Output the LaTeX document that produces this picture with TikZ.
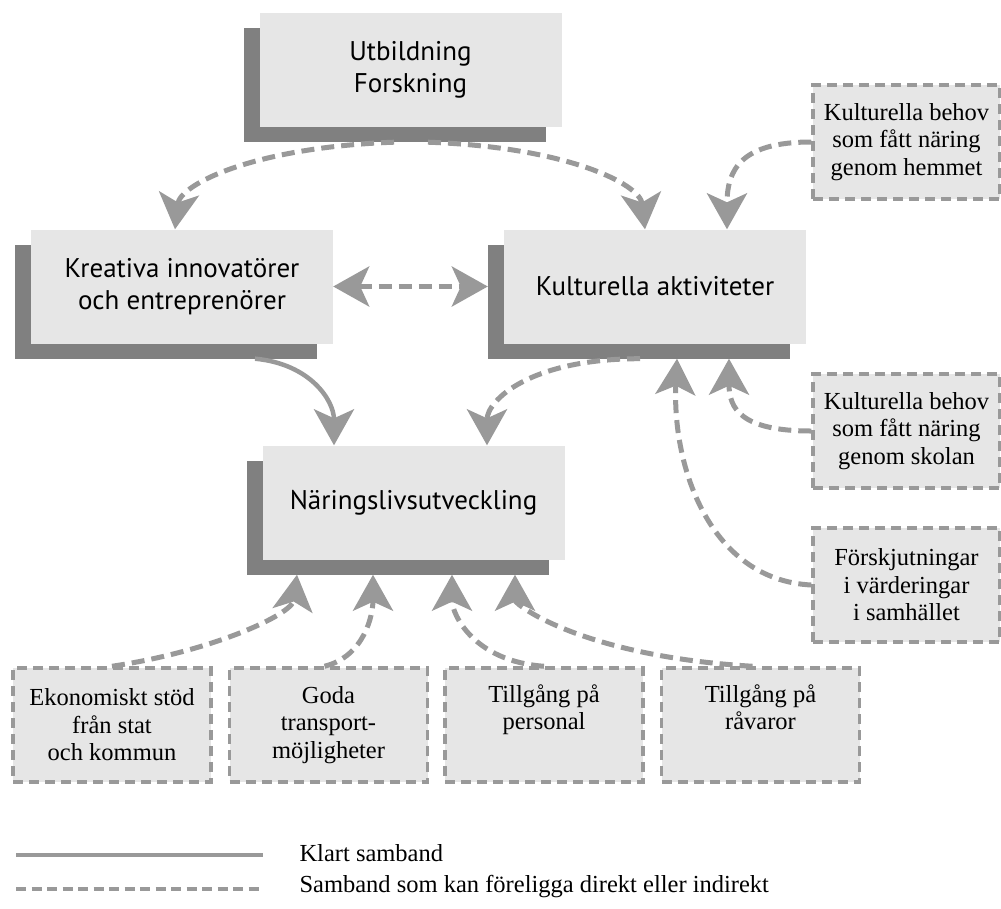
\documentclass[tikz,border=0pt]{standalone}
\usepackage{fontspec}
\setmainfont{Liberation Serif}
\setsansfont{PT Sans}
\usetikzlibrary{arrows.meta,shadows}
\definecolor{boxgray}{HTML}{E6E6E6}
\definecolor{shadegray}{HTML}{808080}
\definecolor{linegray}{HTML}{999999}

\begin{document}
\begin{tikzpicture}[x=1pt,y=-1pt,
>={Stealth[length=36pt,width=40pt,inset=9pt]},
mainbox/.style={fill=boxgray, minimum width=302pt, minimum height=114pt, inner sep=0pt, align=center,
	font=\sffamily\fontsize{27}{32}\selectfont,
	drop shadow={shadow xshift=-16pt, shadow yshift=-15pt, opacity=1, fill=shadegray}},
factor/.style={fill=boxgray, draw=linegray, line width=3.5pt, dash pattern=on 10pt off 6pt,
	minimum height=114pt, inner sep=0pt, align=center, font=\fontsize{24.5}{27.5}\selectfont},
sure/.style={draw=linegray, line width=4.5pt},
maybe/.style={sure, line width=5pt, dash pattern=on 13pt off 7pt}]
\useasboundingbox (0,0) rectangle (1001,908);

%the four main boxes
\node[mainbox] (utb) at (410.5,70) {Utbildning\\Forskning};
\node[mainbox] (krea) at (182,286.5) {Kreativa innovatörer\\och entreprenörer};
\node[mainbox] (kult) at (655,286.5) {Kulturella aktiviteter};
\node[mainbox] (nar) at (413.5,502.5) {Näringslivsutveckling};

%factors on the right
\node[factor, minimum width=187pt] (hem) at (906.5,142) {Kulturella behov\\som fått näring\\genom hemmet};
\node[factor, minimum width=187pt] (skol) at (906.5,431) {Kulturella behov\\som fått näring\\genom skolan};
\node[factor, minimum width=187pt] (forsk) at (906.5,585) {Förskjutningar\\i värderingar\\i samhället};

%factors at the bottom
\node[factor, minimum width=198pt] (eko) at (112,725) {Ekonomiskt stöd\\från stat\\och kommun};
\node[factor, minimum width=198pt] (goda) at (328.5,725) {Goda\\transport-\\möjligheter};
\node[factor, minimum width=198pt] (pers) at (544,725) {Tillgång på\\personal\\\strut};
\node[factor, minimum width=198pt] (rav) at (760.5,725) {Tillgång på\\råvaror\\\strut};

%connectors between the main boxes
\draw[maybe,->] ([xshift=-16.5,yshift=-15]utb.south) .. controls +(-140,5) and +(5,-45) .. ([xshift=-7]krea.north);
\draw[maybe,->] ([xshift=17.5,yshift=-15]utb.south) .. controls +(140,5) and +(-5,-45) .. ([xshift=-10]kult.north);
\draw[maybe,<->] (krea.east) -- ([xshift=-16]kult.west);
\draw[sure,->] ([xshift=73,yshift=-15]krea.south) .. controls +(55,5) and +(0,-45) .. ([xshift=-79.5]nar.north);
\draw[maybe,->] ([xshift=-15,yshift=-15]kult.south) .. controls +(-110,0) and +(0,-45) .. ([xshift=73.5]nar.north);

%right factors to kulturella aktiviteter
\draw[maybe,->] (hem.west) .. controls +(-70,0) and +(0,-60) .. ([xshift=72]kult.north);
\draw[maybe,->] (skol.west) .. controls +(-70,0) and +(0,50) .. ([xshift=74,yshift=-15]kult.south);
\draw[maybe,->] (forsk.west) .. controls +(-100,-5) and +(-5,110) .. ([xshift=22,yshift=-15]kult.south);

%bottom factors to naringslivsutveckling
\draw[maybe,->] (eko.north) .. controls +(100,-15) and +(-5,40) .. ([xshift=-116.5,yshift=-15]nar.south);
\draw[maybe,->] ([xshift=-4]goda.north) .. controls +(40,-10) and +(0,40) .. ([xshift=-40.5,yshift=-15]nar.south);
\draw[maybe,->] (pers.north) .. controls +(-70,-5) and +(0,40) .. ([xshift=38.5,yshift=-15]nar.south);
\draw[maybe,->] ([xshift=-8]rav.north) .. controls +(-170,-10) and +(0,30) .. ([xshift=101.5,yshift=-15]nar.south);

%legend
\coordinate (s0) at (16,855);
\coordinate (s1) at (263,855);
\coordinate (d0) at (16,889);
\coordinate (d1) at (263,889);
\draw[sure] (s0) -- (s1);
\draw[maybe, line width=4pt, dash pattern=on 10pt off 5.5pt] (d0) -- (d1);
\node[anchor=west, font=\fontsize{24.5}{27.5}\selectfont] (lk) at (296,853) {Klart samband};
\node[anchor=west, font=\fontsize{24.5}{27.5}\selectfont] (ld) at (296,887) {Samband som kan föreligga direkt eller indirekt};
\end{tikzpicture}
\end{document}
